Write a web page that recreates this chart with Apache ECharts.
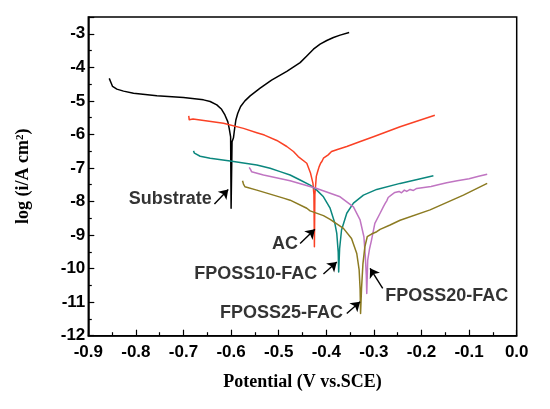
<!DOCTYPE html>
<html>
<head>
<meta charset="utf-8">
<script src="https://cdn.jsdelivr.net/npm/echarts@6/dist/echarts.min.js"></script>
<style>
html,body{margin:0;padding:0;background:#fff;}
#chart{width:550px;height:409px;}
</style>
</head>
<body>
<div id="chart"></div>
<script>
// ---- data ----
const substrateX = [-0.856,-0.853,-0.852,-0.849,-0.840,-0.826,-0.805,-0.756,-0.700,-0.658,-0.644,-0.630,-0.620,-0.613,-0.607,-0.604,-0.601,-0.600,-0.598,-0.595,-0.593,-0.590,-0.586,-0.580,-0.571,-0.560,-0.539,-0.515,-0.483,-0.455,-0.441,-0.427,-0.413,-0.399,-0.385,-0.371,-0.352];
const substrateY = [-4.33,-4.38,-4.47,-4.57,-4.65,-4.71,-4.77,-4.85,-4.90,-4.97,-5.02,-5.12,-5.25,-5.42,-5.62,-5.82,-6.07,-8.20,-6.22,-6.10,-5.87,-5.57,-5.37,-5.17,-5.00,-4.85,-4.62,-4.38,-4.12,-3.86,-3.66,-3.46,-3.31,-3.20,-3.11,-3.04,-2.96];

const acX = [-0.689,-0.688,-0.680,-0.665,-0.616,-0.574,-0.546,-0.530,-0.504,-0.483,-0.469,-0.459,-0.441,-0.433,-0.428,-0.426,-0.425,-0.424,-0.421,-0.418,-0.415,-0.412,-0.409,-0.406,-0.396,-0.389,-0.375,-0.357,-0.330,-0.301,-0.245,-0.172];
const acY = [-5.45,-5.56,-5.54,-5.57,-5.67,-5.82,-5.95,-6.02,-6.18,-6.36,-6.51,-6.66,-6.86,-7.16,-7.46,-7.80,-9.35,-7.80,-7.25,-7.10,-6.96,-6.86,-6.80,-6.71,-6.61,-6.51,-6.44,-6.36,-6.22,-6.07,-5.77,-5.43];

const fposs10X = [-0.679,-0.677,-0.674,-0.665,-0.644,-0.602,-0.546,-0.518,-0.497,-0.476,-0.455,-0.434,-0.420,-0.406,-0.392,-0.382,-0.378,-0.375,-0.374,-0.372,-0.368,-0.357,-0.343,-0.322,-0.294,-0.245,-0.175];
const fposs10Y = [-6.49,-6.56,-6.61,-6.65,-6.71,-6.79,-6.91,-7.01,-7.11,-7.21,-7.36,-7.51,-7.66,-7.86,-8.20,-8.65,-8.95,-9.50,-10.10,-9.40,-8.85,-8.35,-8.05,-7.81,-7.64,-7.46,-7.23];

const fposs20X = [-0.562,-0.559,-0.557,-0.532,-0.476,-0.420,-0.371,-0.343,-0.329,-0.321,-0.318,-0.316,-0.315,-0.313,-0.309,-0.305,-0.298,-0.287,-0.280,-0.276,-0.273,-0.270,-0.266,-0.263,-0.259,-0.256,-0.252,-0.247,-0.242,-0.236,-0.231,-0.224,-0.217,-0.210,-0.195,-0.180,-0.165,-0.147,-0.125,-0.100,-0.080,-0.062];
const fposs20Y = [-6.98,-7.05,-7.11,-7.21,-7.38,-7.61,-7.86,-8.16,-8.55,-9.05,-9.65,-10.20,-10.74,-9.75,-9.40,-9.15,-8.65,-8.35,-8.15,-8.05,-7.98,-7.88,-7.92,-7.80,-7.84,-7.73,-7.78,-7.70,-7.74,-7.66,-7.70,-7.64,-7.67,-7.61,-7.58,-7.55,-7.50,-7.44,-7.38,-7.32,-7.25,-7.19];

const fposs25X = [-0.576,-0.574,-0.571,-0.546,-0.490,-0.476,-0.441,-0.434,-0.406,-0.392,-0.364,-0.347,-0.336,-0.331,-0.329,-0.328,-0.326,-0.323,-0.319,-0.314,-0.305,-0.294,-0.287,-0.266,-0.245,-0.182,-0.112,-0.062];
const fposs25Y = [-7.38,-7.48,-7.56,-7.66,-7.90,-7.96,-8.20,-8.28,-8.42,-8.53,-8.80,-9.10,-9.55,-10.04,-10.60,-11.34,-10.60,-9.85,-9.35,-9.05,-8.97,-8.90,-8.83,-8.70,-8.56,-8.25,-7.81,-7.46];

// annotation texts and their arrows (data coordinates)
const labelTexts = ['Substrate','AC','FPOSS10-FAC','FPOSS25-FAC','FPOSS20-FAC'];
const labelX = [-0.728,-0.487,-0.548,-0.494,-0.147];
const labelY = [-7.93,-9.27,-10.15,-11.33,-10.82];
const arrowFromX = [-0.635,-0.455,-0.406,-0.357,-0.2815];
const arrowFromY = [-8.075,-9.25,-10.16,-11.34,-10.59];
const arrowToX = [-0.606,-0.424,-0.378,-0.329,-0.308];
const arrowToY = [-7.64,-8.83,-9.80,-10.99,-9.99];

const xTickMin = -0.9, xTickMax = 0, xTickStep = 0.1;
const yTickMin = -12, yTickMax = -2.5, yTickStep = 1;

// ---- chart ----
const pts = (xs, ys) => xs.map((v, i) => [v, ys[i]]);
const sansBold = {fontFamily: 'Liberation Sans, Arial, sans-serif', fontWeight: 'bold', color: '#000'};
const serifFont = 'Liberation Serif, Times New Roman, serif';
const serifBold = {fontFamily: serifFont, fontWeight: 'bold', fontSize: 18, color: '#000'};

function curve(name, xs, ys, color) {
  return {
    name: name, type: 'line', data: pts(xs, ys),
    symbol: 'none', showSymbol: false, smooth: false,
    lineStyle: {color: color, width: 1.5, join: 'round'},
    itemStyle: {color: color},
    z: 3
  };
}

const chart = echarts.init(document.getElementById('chart'), null, {renderer: 'canvas'});
chart.setOption({
  animation: false,
  backgroundColor: '#fff',
  grid: {left: 88.3, right: 33.3, top: 17, bottom: 73.3, show: true, borderColor: '#000', borderWidth: 1.5},
  xAxis: {
    type: 'value', min: xTickMin, max: xTickMax, interval: xTickStep,
    name: 'Potential (V vs.SCE)', nameLocation: 'middle', nameGap: 38,
    nameTextStyle: serifBold,
    axisLine: {show: true, onZero: false, lineStyle: {color: '#000', width: 1.5}},
    axisTick: {show: true, inside: true, length: 6, lineStyle: {color: '#000', width: 1.2}},
    minorTick: {show: true, splitNumber: 2, length: 3.5, lineStyle: {color: '#000', width: 1.2}},
    splitLine: {show: false},
    axisLabel: Object.assign({fontSize: 17, margin: 8, formatter: v => v.toFixed(1)}, sansBold)
  },
  yAxis: {
    type: 'value', min: yTickMin, max: yTickMax, interval: yTickStep,
    name: '{a|log (i/A cm}{s|2}{a|)}', nameLocation: 'middle', nameGap: 55, nameRotate: 90,
    nameTextStyle: Object.assign({}, serifBold, {
      rich: {
        a: {fontFamily: serifFont, fontWeight: 'bold', fontSize: 18, color: '#000'},
        s: {fontFamily: serifFont, fontWeight: 'bold', fontSize: 11, color: '#000', verticalAlign: 'top', padding: [0, 0, 8, 0]}
      }
    }),
    axisLine: {show: true, onZero: false, lineStyle: {color: '#000', width: 1.5}},
    axisTick: {show: true, inside: true, length: 6, lineStyle: {color: '#000', width: 1.2}},
    minorTick: {show: true, splitNumber: 2, length: 3.5, lineStyle: {color: '#000', width: 1.2}},
    splitLine: {show: false},
    axisLabel: Object.assign({fontSize: 17, margin: 3, showMaxLabel: false,
      formatter: v => (Number.isInteger(v) ? String(v) : '')}, sansBold)
  },
  series: [
    curve('Substrate', substrateX, substrateY, '#000000'),
    curve('AC', acX, acY, '#fa4125'),
    curve('FPOSS10-FAC', fposs10X, fposs10Y, '#0b877e'),
    curve('FPOSS20-FAC', fposs20X, fposs20Y, '#c075c2'),
    curve('FPOSS25-FAC', fposs25X, fposs25Y, '#8c7b22'),
    {
      name: 'labels', type: 'scatter', symbolSize: 0, z: 5, silent: true,
      data: labelTexts.map((t, i) => ({value: [labelX[i], labelY[i]], name: t})),
      label: Object.assign({show: true, position: 'inside', fontSize: 18, textBorderWidth: 0,
        formatter: p => p.name}, sansBold),
      markLine: {
        silent: true, animation: false, symbol: ['none', 'arrow'], symbolSize: 9,
        label: {show: false},
        itemStyle: {color: '#000'},
        lineStyle: {color: '#000', width: 1.4, type: 'solid'},
        data: labelTexts.map((t, i) => [
          {coord: [arrowFromX[i], arrowFromY[i]]},
          {coord: [arrowToX[i], arrowToY[i]]}
        ])
      }
    }
  ]
});
</script>
</body>
</html>
